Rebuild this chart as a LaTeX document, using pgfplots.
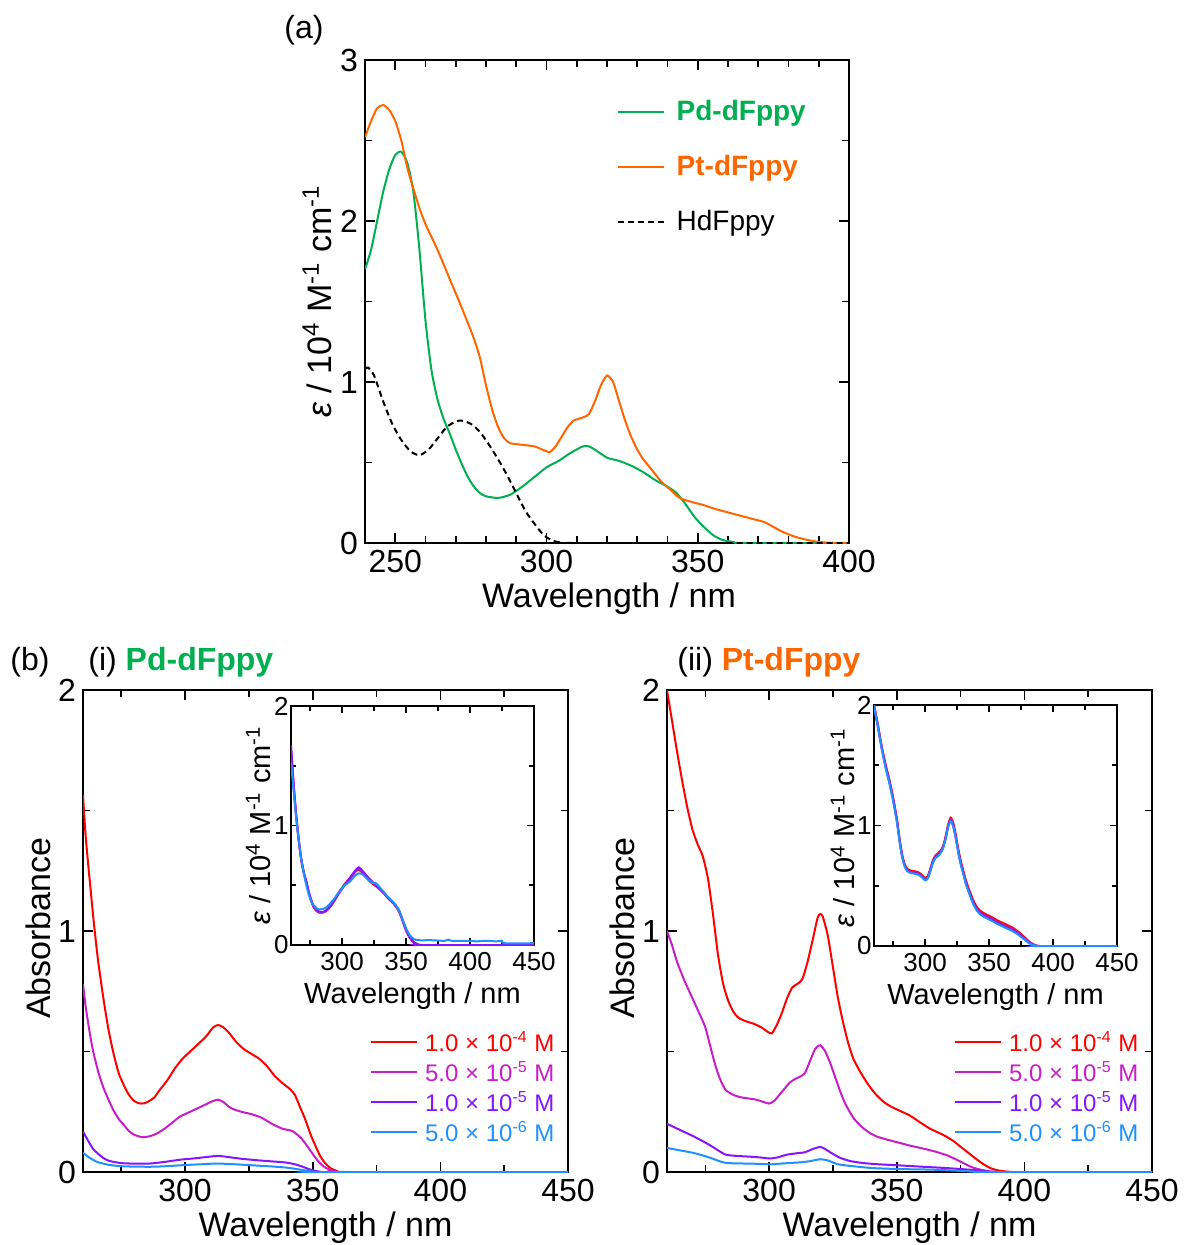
\documentclass[border=0pt]{standalone}
\usepackage{fontspec}
\setmainfont{Liberation Sans}
\usepackage{pgfplots}
\pgfplotsset{compat=1.18}
\definecolor{pdgreen}{RGB}{0,176,80}
\definecolor{ptorange}{RGB}{255,102,0}
\definecolor{cred}{RGB}{255,0,0}
\definecolor{cmag}{RGB}{200,30,200}
\definecolor{cpur}{RGB}{135,20,255}
\definecolor{cblue}{RGB}{30,144,255}
\pgfplotsset{
 base/.style={
  scale only axis,
  axis line style={line width=1pt},
  tick align=inside,
  every tick/.style={black, line width=0.8pt},
  /pgf/number format/assume math mode=true,
  clip=true,
  every axis plot/.append style={smooth, tension=0.4},
 },
 mainax/.style={base,
  major tick length=5pt, minor tick length=3.5pt,
  tick label style={font=\fontsize{16}{19}\selectfont},
  label style={font=\fontsize{17}{20}\selectfont},
 },
 insetax/.style={base,
  axis background/.style={fill=white},
  major tick length=3.5pt, minor tick length=2.5pt,
  tick label style={font=\fontsize{13}{15}\selectfont},
  yticklabel style={inner sep=1pt},
  label style={font=\fontsize{14.5}{17}\selectfont},
  xmin=260, xmax=450, ymin=0, ymax=2,
  xtick={300,350,400,450}, minor xtick={275,325,375,425},
  ytick={0,1,2}, minor ytick={0.5,1.5},
  xlabel={Wavelength / nm},
  ylabel={\textit{ε} / 10\textsuperscript{4} M\textsuperscript{-1} cm\textsuperscript{-1}},
  xlabel style={at={(axis description cs:0.5,-0.213)},anchor=center},
 },
 bax/.style={mainax,
  width=242.5pt, height=241pt,
  xmin=260, xmax=450, ymin=0, ymax=2,
  xtick={300,350,400,450}, minor xtick={275,325,375,425},
  ytick={0,1,2}, minor ytick={0.5,1.5},
  xlabel={Wavelength / nm}, ylabel={Absorbance},
  xlabel style={at={(axis description cs:0.5,-0.116)},anchor=center},
  ylabel style={at={(axis description cs:-0.093,0.506)},anchor=center},
  legend style={at={(0.592,0.296)}, anchor=north west, draw=none, fill=none,
    inner sep=0pt, outer sep=0pt, font=\fontsize{12}{14}\selectfont,
    row sep=2pt, column sep=2.5pt,
    nodes={inner sep=1pt, text height=10pt, text depth=1pt}},
  legend cell align=left,
  legend image code/.code={\draw[##1,line width=1pt] (0pt,0pt) -- (23pt,0pt);},
 },
}
\begin{document}
\begin{tikzpicture}
\useasboundingbox (0,0) rectangle (592pt,-622.5pt);
% ---------------- panel (a)
\node[anchor=center,font=\fontsize{16}{19}\selectfont] at (152pt,-15pt) {(a)};
\begin{axis}[mainax, at={(182.5pt,-30pt)}, anchor=north west,
  width=242pt, height=241.5pt,
  xmin=240, xmax=400, ymin=0, ymax=3,
  xtick={250,300,350,400}, minor xtick={240,250,...,400},
  ytick={0,1,2,3}, minor ytick={0.5,1.5,2.5},
  xlabel={Wavelength / nm},
  ylabel={\textit{ε} / 10\textsuperscript{4} M\textsuperscript{-1} cm\textsuperscript{-1}},
  xlabel style={at={(axis description cs:0.504,-0.116)},anchor=center},
  ylabel style={at={(axis description cs:-0.099,0.5)},anchor=center},
  legend style={at={(0.52,0.928)}, anchor=north west, draw=none, fill=none,
    inner sep=0pt, outer sep=0pt, font=\fontsize{14}{17}\selectfont,
    row sep=10pt, column sep=5pt,
    nodes={inner sep=1pt, text height=12pt, text depth=3.5pt}},
  legend cell align=left,
  legend image code/.code={\draw[#1,line width=1pt] (0pt,0pt) -- (23pt,0pt);},
]
\addplot[pdgreen, line width=1pt] coordinates {
(240,1.70)(242,1.82)(244,2.00)(246,2.18)(248,2.32)(250,2.41)(252,2.43)(254,2.36)
(256,2.18)(258,1.82)(260,1.38)(262,1.07)(264,0.89)(266,0.77)(268,0.68)(270,0.58)
(272,0.49)(274,0.41)(276,0.35)(278,0.31)(280,0.29)(284,0.28)(288,0.30)(292,0.35)
(296,0.41)(300,0.47)(304,0.51)(308,0.56)(312,0.60)(314,0.60)(316,0.58)(320,0.53)
(324,0.51)(328,0.48)(332,0.44)(336,0.39)(340,0.35)(343,0.31)(346,0.24)(349,0.16)
(352,0.10)(355,0.05)(358,0.02)(362,0.005)(365,0)(400,0)};
\addlegendentry{\textcolor{pdgreen}{\textbf{Pd-dFppy}}}
\addplot[ptorange, line width=1pt] coordinates {
(240,2.52)(242,2.62)(244,2.70)(246,2.72)(248,2.69)(250,2.62)(252,2.50)(254,2.33)
(256,2.20)(258,2.08)(260,1.98)(264,1.82)(268,1.64)(272,1.46)(276,1.27)(278,1.15)
(280,0.98)(282,0.83)(284,0.72)(286,0.65)(288,0.62)(292,0.61)(296,0.60)(298,0.585)
(301,0.565)(303,0.60)(305,0.66)(307,0.72)(309,0.76)(312,0.78)(314,0.80)(316,0.88)
(318,0.98)(320,1.04)(322,1.00)(324,0.88)(326,0.76)(328,0.66)(330,0.58)(332,0.52)
(335,0.45)(338,0.38)(341,0.33)(344,0.28)(348,0.255)(352,0.235)(356,0.21)(360,0.19)
(364,0.17)(368,0.15)(372,0.13)(375,0.10)(378,0.07)(382,0.04)(386,0.02)(390,0.007)
(395,0)(400,0)};
\addlegendentry{\textcolor{ptorange}{\textbf{Pt-dFppy}}}
\addplot[black, line width=1pt, dash pattern=on 3pt off 2pt] coordinates {
(240,1.08)(241,1.09)(243,1.04)(246,0.88)(249,0.74)(252,0.64)(255,0.57)(258,0.545)
(261,0.58)(264,0.65)(267,0.72)(270,0.755)(272,0.76)(275,0.74)(278,0.69)(281,0.61)
(284,0.52)(287,0.42)(290,0.31)(293,0.20)(296,0.12)(299,0.05)(302,0.015)(305,0.003)
(310,0)(400,0)};
\addlegendentry{HdFppy}
\end{axis}
% ---------------- panel (b) titles
\node[anchor=center,font=\fontsize{16}{19}\selectfont] at (15pt,-331pt) {(b)};
\node[anchor=west,font=\fontsize{16}{19}\selectfont,inner sep=0pt] at (44pt,-331pt) {(i) \textcolor{pdgreen}{\textbf{Pd-dFppy}}};
\node[anchor=west,font=\fontsize{16}{19}\selectfont,inner sep=0pt] at (338.5pt,-331pt) {(ii) \textcolor{ptorange}{\textbf{Pt-dFppy}}};
% ---------------- panel (b)(i)
\begin{axis}[bax, at={(41.5pt,-345pt)}, anchor=north west]
\addplot[cred, line width=1pt] coordinates {
(260,1.565)(261,1.40)(262,1.28)(263,1.17)(264,1.06)(265,0.96)(266,0.87)(268,0.72)
(270,0.59)(272,0.49)(274,0.41)(276,0.36)(278,0.32)(280,0.295)(282,0.285)(284,0.285)
(286,0.295)(288,0.31)(290,0.34)(293,0.38)(296,0.43)(299,0.47)(302,0.50)(305,0.53)
(308,0.56)(311,0.60)(313,0.61)(315,0.60)(317,0.58)(320,0.54)(323,0.51)(326,0.49)
(329,0.47)(332,0.44)(335,0.40)(338,0.37)(341,0.345)(343,0.32)(345,0.27)(347,0.22)
(349,0.16)(351,0.11)(353,0.065)(355,0.035)(357,0.016)(359,0.006)(362,0)(450,0)};
\addlegendentry{\textcolor{cred}{1.0 × 10\textsuperscript{-4} M}}
\addplot[cmag, line width=1pt] coordinates {
(260,0.78)(261,0.69)(262,0.62)(263,0.555)(264,0.50)(266,0.415)(268,0.35)(270,0.30)
(272,0.255)(274,0.22)(276,0.195)(278,0.17)(280,0.155)(283,0.145)(286,0.148)(289,0.16)
(292,0.18)(295,0.205)(298,0.23)(302,0.25)(305,0.265)(308,0.28)(311,0.295)(313,0.30)
(315,0.29)(318,0.265)(322,0.25)(326,0.24)(330,0.225)(334,0.20)(338,0.18)(342,0.17)
(345,0.145)(347,0.12)(349,0.09)(351,0.06)(353,0.035)(355,0.018)(358,0.005)(361,0)(450,0)};
\addlegendentry{\textcolor{cmag}{5.0 × 10\textsuperscript{-5} M}}
\addplot[cpur, line width=1pt] coordinates {
(260,0.168)(262,0.13)(264,0.095)(266,0.075)(268,0.058)(270,0.047)(273,0.04)(276,0.036)
(280,0.035)(286,0.035)(292,0.042)(298,0.051)(304,0.057)(309,0.063)(313,0.067)(317,0.062)
(322,0.055)(328,0.049)(334,0.044)(339,0.04)(343,0.032)(346,0.022)(349,0.01)(352,0.003)
(355,0)(450,0)};
\addlegendentry{\textcolor{cpur}{1.0 × 10\textsuperscript{-5} M}}
\addplot[cblue, line width=1pt] coordinates {
(260,0.08)(262,0.063)(264,0.05)(266,0.04)(270,0.03)(275,0.024)(282,0.022)(288,0.022)
(294,0.025)(300,0.029)(306,0.032)(312,0.035)(318,0.033)(326,0.028)(334,0.023)(340,0.018)
(345,0.01)(349,0.003)(352,0)(450,0)};
\addlegendentry{\textcolor{cblue}{5.0 × 10\textsuperscript{-6} M}}
\end{axis}
% inset (i)
\begin{axis}[insetax, at={(145.5pt,-353pt)}, anchor=north west,
  width=121.5pt, height=119.5pt,
  ylabel style={at={(axis description cs:-0.135,0.5)},anchor=center}]
\addplot[cred, line width=1pt] coordinates {
(260,1.62)(262,1.33)(264,1.08)(266,0.88)(268,0.71)(270,0.60)(272,0.52)(274,0.43)
(276,0.36)(278,0.31)(281,0.275)(284,0.27)(287,0.285)(290,0.32)(294,0.38)(298,0.45)
(302,0.51)(306,0.56)(310,0.61)(313,0.63)(316,0.60)(320,0.55)(324,0.51)(328,0.48)
(332,0.44)(336,0.39)(340,0.35)(344,0.29)(347,0.21)(350,0.12)(353,0.06)(356,0.02)
(359,0.005)(362,0)(450,0)};
\addplot[cmag, line width=1pt] coordinates {
(260,1.67)(262,1.36)(264,1.10)(266,0.89)(268,0.72)(270,0.61)(272,0.53)(274,0.44)
(276,0.37)(278,0.315)(281,0.28)(284,0.27)(287,0.28)(290,0.31)(294,0.37)(298,0.44)
(302,0.50)(306,0.55)(310,0.61)(313,0.64)(316,0.61)(320,0.56)(324,0.52)(328,0.48)
(332,0.44)(336,0.39)(340,0.35)(344,0.29)(347,0.21)(350,0.12)(353,0.06)(356,0.02)
(359,0.005)(362,0)(450,0)};
\addplot[cpur, line width=1pt] coordinates {
(260,1.66)(262,1.35)(264,1.09)(266,0.88)(268,0.72)(270,0.61)(272,0.53)(274,0.44)
(276,0.37)(278,0.32)(281,0.285)(284,0.275)(287,0.285)(290,0.315)(294,0.375)(298,0.445)
(302,0.505)(306,0.56)(310,0.62)(313,0.65)(316,0.62)(320,0.57)(324,0.525)(328,0.485)
(332,0.445)(336,0.395)(340,0.355)(344,0.30)(347,0.22)(350,0.13)(353,0.065)(356,0.025)
(359,0.006)(362,0)(450,0)};
\addplot[cblue, line width=1pt] coordinates {
(260,1.53)(262,1.30)(264,1.07)(266,0.88)(268,0.72)(270,0.60)(272,0.50)(274,0.42)
(276,0.36)(278,0.33)(281,0.30)(284,0.30)(287,0.31)(290,0.34)(294,0.39)(298,0.45)
(302,0.50)(306,0.53)(310,0.58)(313,0.60)(316,0.59)(320,0.55)(324,0.52)(326,0.52)
(328,0.50)(332,0.45)(336,0.40)(340,0.36)(344,0.30)(347,0.22)(350,0.14)(353,0.08)
(356,0.05)(360,0.04)(370,0.04)(380,0.035)(383,0.045)(386,0.035)(400,0.035)(405,0.03)
(410,0.035)(415,0.035)(420,0.03)(425,0.035)(427,0.015)(450,0.015)};
\end{axis}
% ---------------- panel (b)(ii)
\begin{axis}[bax, at={(333.5pt,-345pt)}, anchor=north west]
\addplot[cred, line width=1pt] coordinates {
(260,2.00)(262,1.87)(264,1.74)(266,1.62)(268,1.51)(270,1.42)(272,1.36)(274,1.31)
(276,1.22)(278,1.07)(280,0.90)(282,0.78)(284,0.71)(286,0.665)(288,0.64)(291,0.625)
(294,0.615)(297,0.60)(299,0.585)(301,0.575)(303,0.61)(305,0.66)(307,0.72)(309,0.765)
(311,0.78)(313,0.80)(315,0.87)(317,0.96)(319,1.055)(320,1.07)(321,1.06)(323,0.98)
(325,0.85)(327,0.72)(329,0.62)(331,0.535)(333,0.47)(336,0.41)(339,0.36)(342,0.32)
(345,0.29)(348,0.27)(351,0.255)(355,0.235)(359,0.207)(363,0.18)(368,0.155)(372,0.13)
(375,0.105)(378,0.08)(381,0.055)(384,0.032)(387,0.015)(390,0.006)(394,0.001)(397,0)(450,0)};
\addlegendentry{\textcolor{cred}{1.0 × 10\textsuperscript{-4} M}}
\addplot[cmag, line width=1pt] coordinates {
(260,1.00)(262,0.94)(264,0.87)(267,0.79)(270,0.72)(273,0.65)(275,0.60)(277,0.52)
(279,0.44)(281,0.38)(283,0.34)(286,0.32)(289,0.31)(292,0.305)(295,0.30)(298,0.29)
(300,0.284)(302,0.295)(304,0.32)(306,0.345)(308,0.37)(310,0.385)(312,0.395)(314,0.41)
(316,0.46)(318,0.51)(320,0.526)(322,0.50)(324,0.45)(326,0.39)(328,0.33)(330,0.28)
(333,0.225)(336,0.19)(339,0.165)(342,0.148)(346,0.135)(350,0.124)(355,0.11)(360,0.098)
(365,0.085)(370,0.068)(374,0.048)(377,0.032)(380,0.018)(384,0.007)(388,0.001)(391,0)(450,0)};
\addlegendentry{\textcolor{cmag}{5.0 × 10\textsuperscript{-5} M}}
\addplot[cpur, line width=1pt] coordinates {
(260,0.20)(263,0.185)(266,0.17)(270,0.15)(274,0.128)(277,0.11)(280,0.09)(283,0.072)
(287,0.067)(292,0.064)(297,0.06)(300,0.056)(303,0.06)(307,0.072)(311,0.078)(314,0.082)
(317,0.095)(320,0.104)(322,0.095)(325,0.075)(328,0.058)(332,0.045)(337,0.037)(343,0.032)
(350,0.028)(360,0.022)(370,0.016)(378,0.01)(385,0.004)(390,0)(450,0)};
\addlegendentry{\textcolor{cpur}{1.0 × 10\textsuperscript{-5} M}}
\addplot[cblue, line width=1pt] coordinates {
(260,0.10)(265,0.09)(270,0.08)(274,0.069)(278,0.055)(282,0.04)(286,0.036)(292,0.035)
(298,0.033)(301,0.032)(306,0.036)(312,0.04)(316,0.045)(320,0.053)(323,0.048)(327,0.032)
(333,0.024)(341,0.016)(352,0.012)(363,0.01)(372,0.006)(380,0.002)(385,0)(450,0)};
\addlegendentry{\textcolor{cblue}{5.0 × 10\textsuperscript{-6} M}}
\end{axis}
% inset (ii)
\begin{axis}[insetax, at={(437pt,-352.5pt)}, anchor=north west,
  width=121.5pt, height=120.5pt,
  ylabel style={at={(axis description cs:-0.128,0.49)},anchor=center}]
\addplot[cred, line width=1pt] coordinates {
(260,2.00)(263,1.84)(266,1.66)(269,1.51)(272,1.38)(275,1.23)(278,1.05)(280,0.89)
(282,0.76)(284,0.68)(286,0.64)(289,0.625)(292,0.62)(295,0.61)(298,0.585)(300,0.565)
(302,0.58)(304,0.64)(306,0.71)(308,0.75)(310,0.77)(312,0.79)(314,0.83)(316,0.91)
(318,1.01)(320,1.065)(322,1.02)(324,0.92)(326,0.80)(328,0.70)(330,0.62)(332,0.54)
(335,0.45)(338,0.37)(341,0.315)(344,0.285)(348,0.26)(352,0.24)(356,0.215)(360,0.195)
(364,0.175)(368,0.155)(372,0.125)(375,0.10)(378,0.07)(381,0.04)(384,0.018)(387,0.004)
(390,0)(450,0)};
\addplot[cmag, line width=1pt] coordinates {
(260,2.00)(263,1.83)(266,1.65)(269,1.50)(272,1.37)(275,1.22)(278,1.04)(280,0.88)
(282,0.75)(284,0.67)(286,0.63)(289,0.615)(292,0.61)(295,0.60)(298,0.575)(300,0.555)
(302,0.57)(304,0.63)(306,0.70)(308,0.74)(310,0.76)(312,0.78)(314,0.82)(316,0.90)
(318,1.00)(320,1.05)(322,1.00)(324,0.90)(326,0.78)(328,0.68)(330,0.60)(332,0.52)
(335,0.43)(338,0.35)(341,0.30)(344,0.27)(348,0.245)(352,0.225)(356,0.20)(360,0.18)
(364,0.16)(368,0.14)(372,0.115)(375,0.09)(378,0.06)(381,0.035)(384,0.015)(387,0.003)
(390,0)(450,0)};
\addplot[cpur, line width=1pt] coordinates {
(260,1.99)(263,1.82)(266,1.64)(269,1.49)(272,1.36)(275,1.21)(278,1.03)(280,0.87)
(282,0.74)(284,0.665)(286,0.625)(289,0.61)(292,0.605)(295,0.595)(298,0.57)(300,0.55)
(302,0.565)(304,0.625)(306,0.695)(308,0.735)(310,0.755)(312,0.775)(314,0.815)(316,0.895)
(318,0.995)(320,1.04)(322,0.995)(324,0.895)(326,0.775)(328,0.675)(330,0.595)(332,0.515)
(335,0.425)(338,0.345)(341,0.295)(344,0.265)(348,0.24)(352,0.22)(356,0.195)(360,0.175)
(364,0.155)(368,0.135)(372,0.11)(375,0.085)(378,0.055)(381,0.03)(384,0.012)(387,0.002)
(390,0)(450,0)};
\addplot[cblue, line width=1pt] coordinates {
(260,1.99)(263,1.82)(266,1.64)(269,1.48)(272,1.35)(275,1.20)(278,1.02)(280,0.87)
(282,0.74)(284,0.66)(286,0.62)(289,0.605)(292,0.60)(295,0.59)(298,0.565)(300,0.545)
(302,0.56)(304,0.62)(306,0.69)(308,0.73)(310,0.745)(312,0.77)(314,0.81)(316,0.89)
(318,0.99)(320,1.035)(322,0.99)(324,0.89)(326,0.77)(328,0.67)(330,0.59)(332,0.51)
(335,0.42)(338,0.34)(341,0.285)(344,0.255)(348,0.23)(352,0.21)(356,0.185)(360,0.165)
(364,0.145)(368,0.125)(372,0.10)(375,0.075)(378,0.05)(381,0.025)(384,0.01)(387,0.002)
(390,0)(450,0)};
\end{axis}
\end{tikzpicture}
\end{document}
